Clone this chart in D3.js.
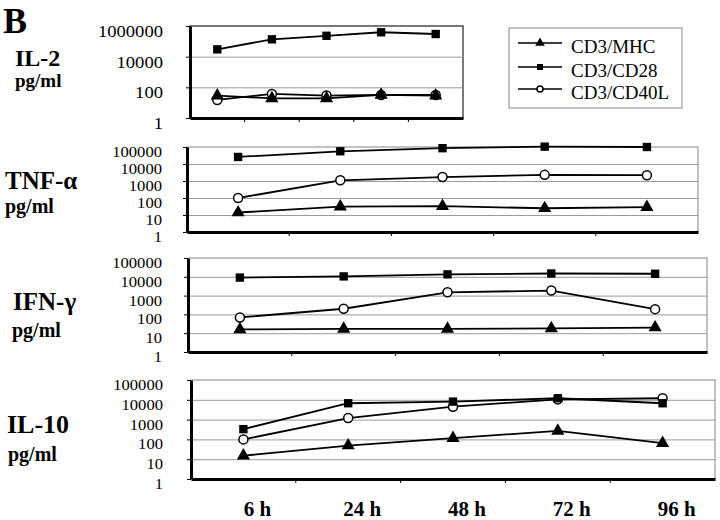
<!DOCTYPE html>
<html>
<head>
<meta charset="utf-8">
<script src="https://cdn.jsdelivr.net/npm/d3@7"></script>
<style>
  body { margin: 0; background: #fff; }
  svg { font-family: 'Liberation Serif', 'DejaVu Serif', 'Times New Roman', serif; }
</style>
</head>
<body>
<script>
// time points and series
const times = ['6 h', '24 h', '48 h', '72 h', '96 h'];
const seriesNames = ['CD3/MHC', 'CD3/CD28', 'CD3/CD40L'];

// IL-2 (pg/ml)
const il2MHC = [29, 19, 19, 32, 29];
const il2CD28 = [30000, 135000, 230000, 390000, 300000];
const il2CD40L = [15, 37, 29, 32, 32];

// TNF-alpha (pg/ml)
const tnfMHC = [14, 31, 33, 25, 29];
const tnfCD28 = [26000, 56000, 85000, 105000, 100000];
const tnfCD40L = [100, 1100, 1700, 2300, 2200];

// IFN-gamma (pg/ml)
const ifnMHC = [16, 17, 17, 18, 20];
const ifnCD28 = [9100, 10500, 13500, 15000, 14500];
const ifnCD40L = [69, 200, 1500, 1850, 190];

// IL-10 (pg/ml)
const il10MHC = [15, 49, 115, 270, 65];
const il10CD28 = [330, 6700, 8100, 12000, 6700];
const il10CD40L = [100, 1200, 4500, 10500, 12000];

// tick labels
const il2Ticks = [1, 100, 10000, 1000000];
const logTicks = [1, 10, 100, 1000, 10000, 100000];

const width = 720;
const height = 520;
const serif = "'Liberation Serif', 'DejaVu Serif', 'Times New Roman', serif";

const svg = d3.select('body')
    .append('svg')
    .attr('width', width)
    .attr('height', height)
    .attr('font-family', serif);

// layout of the four panels
const panels = [
    {title: 'IL-2', ticks: il2Ticks, data: [il2MHC, il2CD28, il2CD40L],
     l: 190, r: 463, t: 26, b: 118, border: '#222', pad: 23, fs: 17, cw: 9.3,
     tx: 15, ty: 66, ts: 24, ux: 15, uy: 87, us: 19},
    {title: 'TNF-\u03b1', ticks: logTicks, data: [tnfMHC, tnfCD28, tnfCD40L],
     l: 187, r: 698, t: 147, b: 232, border: '#999', pad: 21, fs: 14, cw: 8.3,
     tx: 5, ty: 189, ts: 25, ux: 5, uy: 213, us: 20},
    {title: 'IFN-\u03b3', ticks: logTicks, data: [ifnMHC, ifnCD28, ifnCD40L],
     l: 188, r: 707, t: 258, b: 352, border: '#999', pad: 22, fs: 14, cw: 8.3,
     tx: 13, ty: 310, ts: 25, ux: 12, uy: 337, us: 20},
    {title: 'IL-10', ticks: logTicks, data: [il10MHC, il10CD28, il10CD40L],
     l: 191, r: 715, t: 380, b: 479, border: '#999', pad: 24, fs: 14, cw: 8.3,
     tx: 7, ty: 433, ts: 26, ux: 8, uy: 461, us: 20}
];

const symbols = [d3.symbolTriangle, d3.symbolSquare, null];

function drawMarker(g, type, cx, cy, small) {
    if (type === null) {
        g.append('circle')
            .attr('cx', cx).attr('cy', cy)
            .attr('r', small ? 3 : 4.5)
            .attr('fill', '#fff')
            .attr('stroke', '#000')
            .attr('stroke-width', 1.5);
    } else {
        const size = type === d3.symbolSquare ? (small ? 36 : 70) : (small ? 40 : 75);
        g.append('path')
            .attr('d', d3.symbol().type(type).size(size)())
            .attr('transform', 'translate(' + cx + ',' + cy + ')')
            .attr('fill', '#000');
    }
}

let lastX = null;

panels.forEach(p => {
    const x = d3.scaleBand().domain(times).range([p.l, p.r]);
    const cx = t => x(t) + x.bandwidth() / 2;
    const y = d3.scaleLog().domain([1, d3.max(p.ticks)]).range([p.b, p.t]);
    lastX = cx;

    const g = svg.append('g');

    // plot frame
    g.append('rect')
        .attr('x', p.l).attr('y', p.t)
        .attr('width', p.r - p.l).attr('height', p.b - p.t)
        .attr('fill', 'none')
        .attr('stroke', p.border)
        .attr('stroke-width', 1.2);

    // gridlines
    g.append('g')
        .attr('transform', 'translate(' + p.l + ',0)')
        .call(d3.axisLeft(y).tickValues(p.ticks.slice(1, -1)).tickSize(-(p.r - p.l)).tickFormat(''))
        .call(a => a.select('.domain').remove())
        .selectAll('line')
        .attr('stroke', '#9a9a9a');

    // y axis
    const yAxis = d3.axisLeft(y)
        .tickValues(p.ticks)
        .tickFormat(d3.format('d'))
        .tickSize(4)
        .tickSizeOuter(0)
        .tickPadding(p.pad);

    const ya = g.append('g')
        .attr('transform', 'translate(' + p.l + ',0)')
        .call(yAxis)
        .attr('font-family', serif);
    ya.select('.domain').attr('stroke-width', 3);
    ya.selectAll('.tick line').attr('stroke-width', 1);
    ya.selectAll('text')
        .attr('y', 5)
        .attr('font-size', p.fs)
        .attr('font-family', serif)
        .attr('fill', '#000')
        .attr('textLength', d => String(d).length * p.cw)
        .attr('lengthAdjust', 'spacingAndGlyphs');

    // x axis
    const xa = g.append('g')
        .attr('transform', 'translate(0,' + p.b + ')')
        .call(d3.axisBottom(x).tickSize(0).tickSizeOuter(0).tickFormat(''));
    xa.select('.domain').attr('stroke-width', 3);
    xa.selectAll('.tick').remove();
    g.selectAll('.btick')
        .data(times.slice(1))
        .enter()
        .append('line')
        .attr('x1', d => x(d)).attr('x2', d => x(d))
        .attr('y1', p.b).attr('y2', p.b + 4)
        .attr('stroke', '#000');

    // series lines
    const line = d3.line()
        .x((d, i) => cx(times[i]))
        .y(d => y(d));
    [2, 1, 0].forEach(s => {
        g.append('path')
            .datum(p.data[s])
            .attr('d', line)
            .attr('fill', 'none')
            .attr('stroke', '#000')
            .attr('stroke-width', 1.8);
    });

    // markers
    [2, 1, 0].forEach(s => {
        p.data[s].forEach((v, i) => drawMarker(g, symbols[s], cx(times[i]), y(v), false));
    });

    // panel titles
    g.append('text')
        .attr('x', p.tx).attr('y', p.ty)
        .attr('font-size', p.ts)
        .attr('font-weight', 'bold')
        .text(p.title);
    g.append('text')
        .attr('x', p.ux).attr('y', p.uy)
        .attr('font-size', p.us)
        .attr('font-weight', 'bold')
        .text('pg/ml');
});

// x labels under the last panel
svg.selectAll('.xlab')
    .data(times)
    .enter()
    .append('text')
    .attr('x', d => lastX(d) + 14)
    .attr('y', 516)
    .attr('text-anchor', 'middle')
    .attr('font-size', 21)
    .attr('font-weight', 'bold')
    .text(d => d);

// panel letter
svg.append('text')
    .attr('x', 3).attr('y', 33)
    .attr('font-size', 36)
    .attr('font-weight', 'bold')
    .text('B');

// legend
const legend = svg.append('g');
legend.append('rect')
    .attr('x', 509).attr('y', 28)
    .attr('width', 173).attr('height', 80)
    .attr('fill', '#fff')
    .attr('stroke', '#888')
    .attr('stroke-width', 1);

const rowY = [43, 67, 89];
seriesNames.forEach((name, i) => {
    legend.append('line')
        .attr('x1', 518).attr('x2', 562)
        .attr('y1', rowY[i]).attr('y2', rowY[i])
        .attr('stroke', '#000')
        .attr('stroke-width', 1.3);
    drawMarker(legend, symbols[i], 540, rowY[i], true);
    legend.append('text')
        .attr('x', 571).attr('y', rowY[i] + 10)
        .attr('font-size', 19)
        .text(name);
});
</script>
</body>
</html>
